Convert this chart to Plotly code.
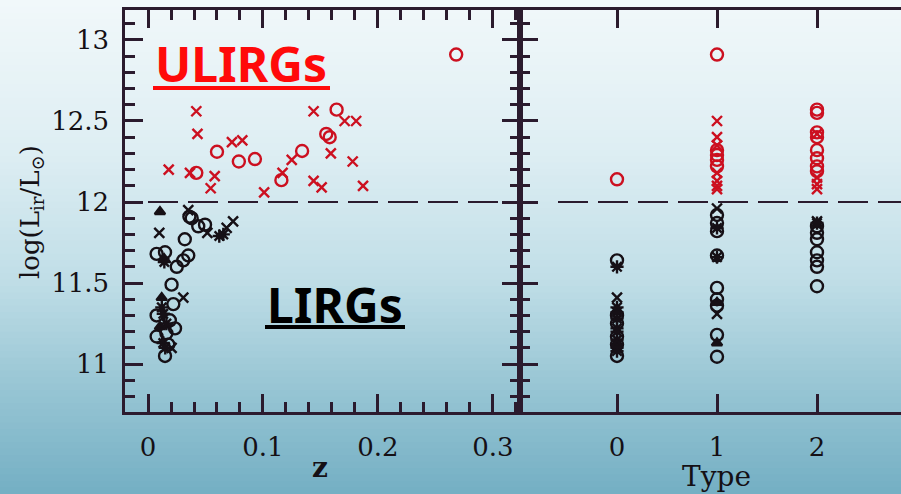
import plotly.graph_objects as go

# ---------------- data ----------------
# Left panel: redshift z vs log(L_ir/L_sun)
red_circ_z = [0.042, 0.060, 0.079, 0.093, 0.116, 0.134, 0.155, 0.158, 0.164, 0.268]
red_circ_L = [12.18, 12.31, 12.25, 12.265, 12.135, 12.315, 12.42, 12.40, 12.57, 12.91]
red_x_z = [0.018, 0.0365, 0.042, 0.043, 0.0545, 0.058, 0.073, 0.082, 0.101, 0.117,
           0.125, 0.144, 0.144, 0.151, 0.159, 0.171, 0.178, 0.181, 0.187]
red_x_L = [12.20, 12.18, 12.56, 12.42, 12.085, 12.16, 12.37, 12.38, 12.06, 12.18,
           12.26, 12.56, 12.13, 12.09, 12.30, 12.50, 12.25, 12.50, 12.10]
blk_circ_z = [0.036, 0.038, 0.0437, 0.0496, 0.032, 0.035, 0.0307, 0.025, 0.0075, 0.0148,
              0.0205, 0.022, 0.0075, 0.019, 0.0235, 0.0075, 0.016, 0.0177, 0.0148]
blk_circ_L = [11.91, 11.90, 11.85, 11.86, 11.77, 11.67, 11.64, 11.60, 11.68, 11.69,
              11.49, 11.37, 11.30, 11.27, 11.22, 11.17, 11.19, 11.12, 11.05]
blk_x_z = [0.0098, 0.035, 0.0516, 0.074, 0.0684, 0.0307, 0.0205]
blk_x_L = [11.81, 11.95, 11.81, 11.88, 11.84, 11.41, 11.10]
blk_ast_z = [0.0142, 0.0655, 0.062, 0.0133, 0.0133, 0.012, 0.016, 0.015]
blk_ast_L = [11.63, 11.80, 11.79, 11.31, 11.13, 11.35, 11.25, 11.10]
blk_tri_z = [0.0104, 0.0119, 0.0104, 0.014]
blk_tri_L = [11.94, 11.41, 11.23, 11.65]

# Right panel: Type vs log(L_ir/L_sun)
r_red_circ_t = [0, 1, 1, 1, 1, 1, 2, 2, 2, 2, 2, 2, 2, 2]
r_red_circ_L = [12.14, 12.91, 12.32, 12.29, 12.26, 12.22, 12.57, 12.55, 12.43, 12.40, 12.32, 12.27, 12.22, 12.19]
r_red_x_t = [1, 1, 1, 1, 1, 1, 1, 2, 2, 2, 2]
r_red_x_L = [12.50, 12.40, 12.35, 12.18, 12.13, 12.10, 12.08, 12.15, 12.11, 12.08, 12.42]
r_blk_circ_t = [0, 0, 0, 0, 0, 0, 1, 1, 1, 1, 1, 1, 1, 1, 1, 2, 2, 2, 2, 2, 2, 2]
r_blk_circ_L = [11.64, 11.30, 11.25, 11.17, 11.05, 11.12, 11.92, 11.87, 11.82, 11.67, 11.47,
                11.40, 11.36, 11.18, 11.045, 11.85, 11.81, 11.77, 11.69, 11.64, 11.60, 11.48]
r_blk_x_t = [0, 1, 1, 2]
r_blk_x_L = [11.41, 11.96, 11.31, 11.88]
r_blk_ast_t = [0, 0, 0, 0, 0, 0, 0, 0, 0, 1, 1, 2]
r_blk_ast_L = [11.60, 11.35, 11.32, 11.28, 11.22, 11.20, 11.15, 11.10, 11.08, 11.84, 11.66, 11.87]
r_blk_tri_t = [0, 0, 1, 1]
r_blk_tri_L = [11.33, 11.12, 11.13, 11.38]

z_ticks = [0, 0.1, 0.2, 0.3]
z_ticklabels = ["0", "0.1", "0.2", "0.3"]
type_ticks = [0, 1, 2]
type_ticklabels = ["0", "1", "2"]
L_ticks = [11, 11.5, 12, 12.5, 13]
L_ticklabels = ["11", "11.5", "12", "12.5", "13"]
L_split = 12

# ---------------- styling ----------------
W, H = 901, 494
ML, MR, MT, MB = 125, 0, 10, 82
PW, PH = W - ML - MR, H - MT - MB
RED = "#cc1020"
BLK = "#161016"
AX = "#2b1b2e"
SERIF = "DejaVu Serif"

fig = go.Figure()

def add(x, y, sym, color, size, xa, ya, lw=2):
    fig.add_trace(go.Scatter(
        x=x, y=y, mode="markers", xaxis=xa, yaxis=ya, showlegend=False,
        marker=dict(symbol=sym, color=color, size=size,
                    line=dict(color=color, width=lw))))

for xa, ya, groups in [
    ("x", "y", [(red_circ_z, red_circ_L, "circle-open", RED, 12),
                (red_x_z, red_x_L, "x-thin-open", RED, 10),
                (blk_circ_z, blk_circ_L, "circle-open", BLK, 12),
                (blk_x_z, blk_x_L, "x-thin-open", BLK, 10),
                (blk_ast_z, blk_ast_L, "asterisk-open", BLK, 11),
                (blk_tri_z, blk_tri_L, "triangle-up", BLK, 9)]),
    ("x2", "y2", [(r_red_circ_t, r_red_circ_L, "circle-open", RED, 12),
                  (r_red_x_t, r_red_x_L, "x-thin-open", RED, 10),
                  (r_blk_circ_t, r_blk_circ_L, "circle-open", BLK, 12),
                  (r_blk_x_t, r_blk_x_L, "x-thin-open", BLK, 10),
                  (r_blk_ast_t, r_blk_ast_L, "asterisk-open", BLK, 11),
                  (r_blk_tri_t, r_blk_tri_L, "triangle-up", BLK, 9)])]:
    for gx, gy, sym, col, sz in groups:
        add(gx, gy, sym, col, sz, xa, ya, lw=2.4)

# background gradient (bands)
stops = [(0, (241, 248, 250)), (150, (222, 238, 243)), (280, (192, 222, 231)),
         (380, (154, 199, 213)), (494, (116, 175, 196))]
def col_at(Y):
    for (y0, c0), (y1, c1) in zip(stops[:-1], stops[1:]):
        if y0 <= Y <= y1:
            t = (Y - y0) / (y1 - y0)
            return "rgb(%d,%d,%d)" % tuple(round(a + (b - a) * t) for a, b in zip(c0, c1))
    return "rgb(%d,%d,%d)" % stops[-1][1]
nb = 76
for i in range(nb):
    Y0 = i * H / nb
    Y1 = (i + 1) * H / nb + 0.8
    fig.add_shape(type="rect", xref="paper", yref="paper", layer="below",
                  x0=-ML / PW, x1=1 + MR / PW,
                  y0=(H - MB - Y1) / PH, y1=(H - MB - Y0) / PH,
                  line=dict(width=0), fillcolor=col_at((Y0 + Y1) / 2))

# dashed dividing line at log L = 12
fig.add_shape(type="line", xref="x", yref="y", x0=0, x1=0.3235, y0=L_split, y1=L_split,
              line=dict(color=AX, width=2.2, dash="30px,10px"))
fig.add_shape(type="line", xref="x2", yref="y2", x0=-0.59, x1=2.84, y0=L_split, y1=L_split,
              line=dict(color=AX, width=2.2, dash="30px,10px"))

split = (520 - ML) / PW
tickfont = dict(family=SERIF, size=26, color="#151015")
common = dict(showline=True, linecolor=AX, linewidth=2.5, ticks="inside",
              tickcolor=AX, tickwidth=2.5, ticklen=18, showgrid=False, zeroline=False,
              tickfont=tickfont)

fig.update_layout(
    width=W, height=H, margin=dict(l=ML, r=MR, t=MT, b=MB),
    paper_bgcolor="rgba(0,0,0,0)", plot_bgcolor="rgba(0,0,0,0)",
    xaxis=dict(domain=[0, split], range=[-0.02, 0.3235], tickvals=z_ticks,
               ticktext=z_ticklabels, mirror="ticks", ticklabelstandoff=10,
               minor=dict(dtick=0.02, tick0=0, ticks="inside", ticklen=10,
                          tickcolor=AX, tickwidth=2.5), **common),
    yaxis=dict(range=[10.704, 13.185], tickvals=L_ticks, ticktext=L_ticklabels,
               mirror="ticks", ticklabelstandoff=8,
               minor=dict(dtick=0.1, tick0=11, ticks="inside", ticklen=10,
                          tickcolor=AX, tickwidth=2.5), **common),
    xaxis2=dict(domain=[split, 1], range=[-0.97, 2.84], tickvals=type_ticks,
                ticktext=type_ticklabels, mirror="ticks", anchor="y2",
                ticklabelstandoff=10, **common),
    yaxis2=dict(range=[10.704, 13.185], tickvals=L_ticks, showticklabels=False,
                anchor="x2", side="left",
                minor=dict(dtick=0.1, tick0=11, ticks="inside", ticklen=10,
                           tickcolor=AX, tickwidth=2.5), **common),
)

def px(X):
    return (X - ML) / PW
def py(Y):
    return (H - MB - Y) / PH

ann = [
    dict(text="<b>z</b>", x=px(320), y=py(467), font=dict(family=SERIF, size=28, color="#151015")),
    dict(text="Type", x=px(716), y=py(476), font=dict(family=SERIF, size=28, color="#151015")),
    dict(text="log(L<sub>ir</sub>/L<sub>⊙</sub>)", x=px(31), y=py(212), textangle=-90,
         font=dict(family=SERIF, size=26, color="#151015")),
    dict(text="<b>ULIRGs</b>", x=px(241), y=py(63),
         font=dict(family="Comic Sans MS, Noto Sans", size=48, color="#ff0a0a")),
    dict(text="<b>LIRGs</b>", x=px(335), y=py(304),
         font=dict(family="Comic Sans MS, Noto Sans", size=48, color="#000000")),
]
for a in ann:
    fig.add_annotation(xref="paper", yref="paper", showarrow=False,
                       xanchor="center", yanchor="middle", **a)

# thick underlines of the two labels
for x0, x1, yy, c in [(153, 330, 88, "#ff0a0a"), (265, 405, 327, "#000000")]:
    fig.add_shape(type="line", xref="paper", yref="paper",
                  x0=px(x0), x1=px(x1), y0=py(yy), y1=py(yy),
                  line=dict(color=c, width=4))

fig.write_html("out.html")
